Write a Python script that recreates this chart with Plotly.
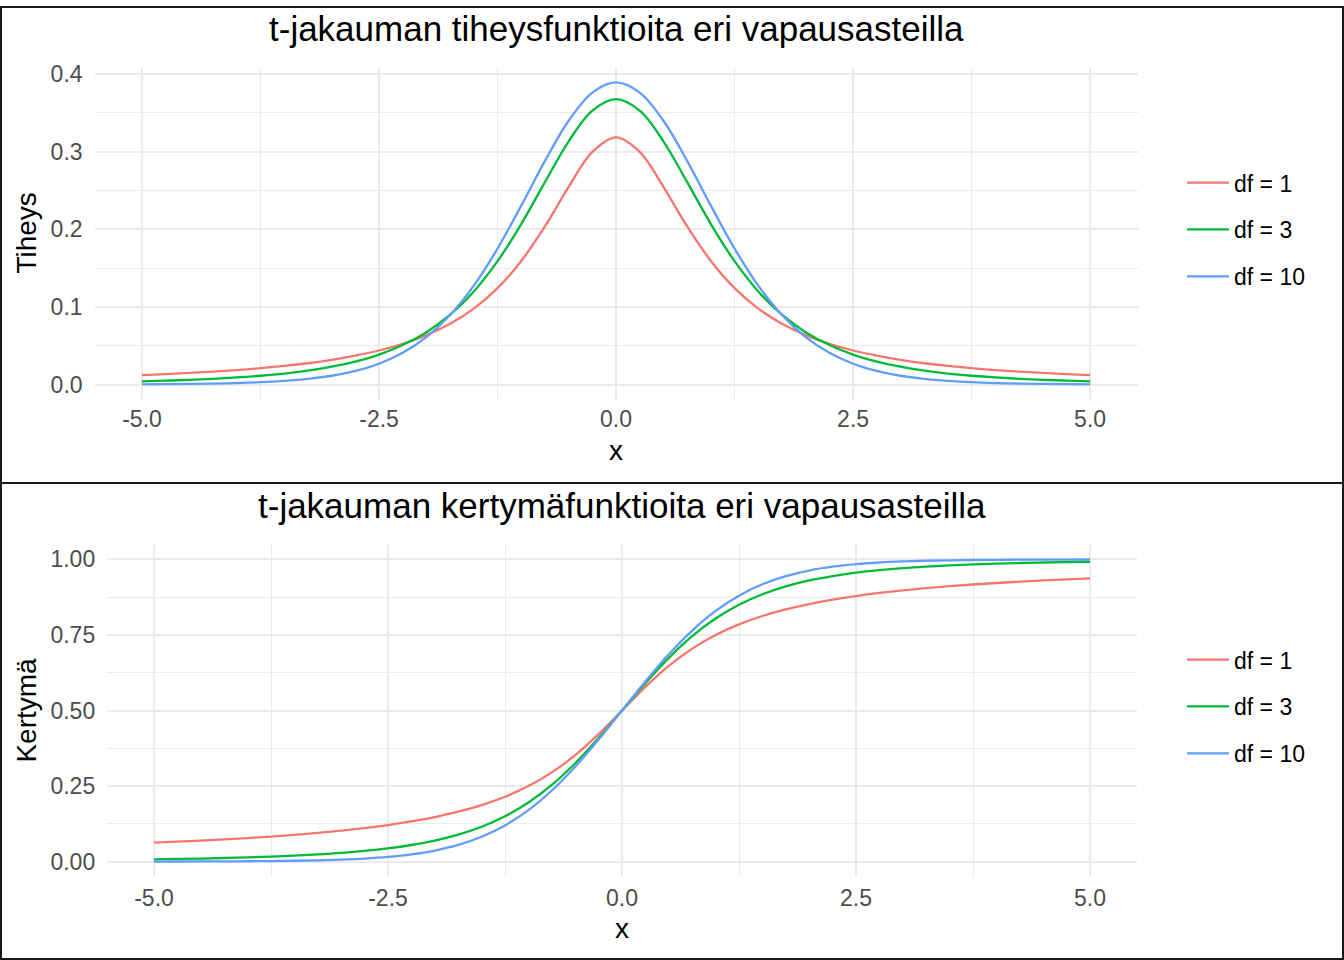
import plotly.graph_objects as go

W, H = 1344, 960

x_vals = [-5.0, -4.75, -4.5, -4.25, -4.0, -3.75, -3.5, -3.25, -3.0, -2.75, -2.5,
          -2.25, -2.0, -1.75, -1.5, -1.25, -1.0, -0.75, -0.5, -0.25, 0.0,
          0.25, 0.5, 0.75, 1.0, 1.25, 1.5, 1.75, 2.0, 2.25, 2.5,
          2.75, 3.0, 3.25, 3.5, 3.75, 4.0, 4.25, 4.5, 4.75, 5.0]

dens_df1 = [0.0122, 0.0135, 0.0150, 0.0167, 0.0187, 0.0211, 0.0240, 0.0275, 0.0318, 0.0372, 0.0439,
            0.0525, 0.0637, 0.0784, 0.0979, 0.1242, 0.1592, 0.2037, 0.2546, 0.2996, 0.3183,
            0.2996, 0.2546, 0.2037, 0.1592, 0.1242, 0.0979, 0.0784, 0.0637, 0.0525, 0.0439,
            0.0372, 0.0318, 0.0275, 0.0240, 0.0211, 0.0187, 0.0167, 0.0150, 0.0135, 0.0122]
dens_df3 = [0.0042, 0.0051, 0.0061, 0.0075, 0.0092, 0.0114, 0.0142, 0.0180, 0.0230, 0.0297, 0.0387,
            0.0509, 0.0675, 0.0900, 0.1200, 0.1589, 0.2067, 0.2606, 0.3132, 0.3527, 0.3676,
            0.3527, 0.3132, 0.2606, 0.2067, 0.1589, 0.1200, 0.0900, 0.0675, 0.0509, 0.0387,
            0.0297, 0.0230, 0.0180, 0.0142, 0.0114, 0.0092, 0.0075, 0.0061, 0.0051, 0.0042]
dens_df10 = [0.0004, 0.0006, 0.0009, 0.0013, 0.0020, 0.0031, 0.0048, 0.0074, 0.0114, 0.0176, 0.0269,
             0.0409, 0.0611, 0.0895, 0.1274, 0.1751, 0.2304, 0.2880, 0.3397, 0.3760, 0.3891,
             0.3760, 0.3397, 0.2880, 0.2304, 0.1751, 0.1274, 0.0895, 0.0611, 0.0409, 0.0269,
             0.0176, 0.0114, 0.0074, 0.0048, 0.0031, 0.0020, 0.0013, 0.0009, 0.0006, 0.0004]

cdf_df1 = [0.0628, 0.0660, 0.0696, 0.0736, 0.0780, 0.0830, 0.0886, 0.0950, 0.1024, 0.1110, 0.1211,
           0.1331, 0.1476, 0.1652, 0.1872, 0.2148, 0.2500, 0.2952, 0.3524, 0.4220, 0.5000,
           0.5780, 0.6476, 0.7048, 0.7500, 0.7852, 0.8128, 0.8348, 0.8524, 0.8669, 0.8789,
           0.8890, 0.8976, 0.9050, 0.9114, 0.9170, 0.9220, 0.9264, 0.9304, 0.9340, 0.9372]
cdf_df3 = [0.0077, 0.0088, 0.0102, 0.0119, 0.0141, 0.0166, 0.0197, 0.0237, 0.0288, 0.0354, 0.0438,
           0.0550, 0.0697, 0.0892, 0.1153, 0.1500, 0.1955, 0.2538, 0.3257, 0.4094, 0.5000,
           0.5906, 0.6743, 0.7462, 0.8045, 0.8500, 0.8847, 0.9108, 0.9303, 0.9450, 0.9562,
           0.9646, 0.9712, 0.9763, 0.9803, 0.9834, 0.9859, 0.9881, 0.9898, 0.9912, 0.9923]
cdf_df10 = [0.0003, 0.0004, 0.0006, 0.0008, 0.0013, 0.0019, 0.0029, 0.0044, 0.0067, 0.0102, 0.0157,
            0.0241, 0.0367, 0.0553, 0.0823, 0.1199, 0.1704, 0.2353, 0.3140, 0.4038, 0.5000,
            0.5962, 0.6860, 0.7647, 0.8296, 0.8801, 0.9177, 0.9447, 0.9633, 0.9759, 0.9843,
            0.9898, 0.9933, 0.9956, 0.9971, 0.9981, 0.9987, 0.9992, 0.9994, 0.9996, 0.9997]

series_names = ["df = 1", "df = 3", "df = 10"]
colors = ["#F8766D", "#00BA38", "#619CFF"]

x_tickvals = [-5.0, -2.5, 0.0, 2.5, 5.0]
x_ticktext = ["-5.0", "-2.5", "0.0", "2.5", "5.0"]
y1_tickvals = [0.0, 0.1, 0.2, 0.3, 0.4]
y1_ticktext = ["0.0", "0.1", "0.2", "0.3", "0.4"]
y2_tickvals = [0.0, 0.25, 0.5, 0.75, 1.0]
y2_ticktext = ["0.00", "0.25", "0.50", "0.75", "1.00"]

title_top = "t-jakauman tiheysfunktioita eri vapausasteilla"
title_bot = "t-jakauman kertymäfunktioita eri vapausasteilla"

FONT = "Liberation Sans, Arial, sans-serif"
GRID = "#EBEBEB"
TICKC = "#4D4D4D"


def px_x(p):
    return p / W


def px_y(p):
    return 1 - p / H


fig = go.Figure()

for name, col, ys in zip(series_names, colors, [dens_df1, dens_df3, dens_df10]):
    fig.add_trace(go.Scatter(x=x_vals, y=ys, mode="lines", name=name,
                             line=dict(color=col, width=2.3, shape="spline"),
                             xaxis="x", yaxis="y", legend="legend",
                             legendgroup="top" + name))
for name, col, ys in zip(series_names, colors, [cdf_df1, cdf_df3, cdf_df10]):
    fig.add_trace(go.Scatter(x=x_vals, y=ys, mode="lines", name=name,
                             line=dict(color=col, width=2.3, shape="spline"),
                             xaxis="x2", yaxis="y2", legend="legend2",
                             legendgroup="bot" + name))

axis_common = dict(showline=False, zeroline=False, ticks="", showgrid=True,
                   gridcolor=GRID, gridwidth=2.2,
                   tickfont=dict(family=FONT, size=23, color=TICKC))

minor_x = dict(tickvals=[-3.75, -1.25, 1.25, 3.75], showgrid=True, gridcolor=GRID, gridwidth=1.1)

fig.update_layout(
    width=W, height=H,
    margin=dict(l=0, r=0, t=0, b=0),
    paper_bgcolor="white", plot_bgcolor="white",
    font=dict(family=FONT, color="black"),
    xaxis=dict(domain=[px_x(94.6), px_x(1137.5)], range=[-5.5, 5.5], anchor="y",
               tickvals=x_tickvals, ticktext=x_ticktext, minor=minor_x,
               ticklabelstandoff=3, **axis_common),
    yaxis=dict(domain=[px_y(396.2), px_y(61.6)], range=[-0.01946, 0.40862], anchor="x",
               tickvals=y1_tickvals, ticktext=y1_ticktext,
               minor=dict(tickvals=[0.05, 0.15, 0.25, 0.35], showgrid=True,
                          gridcolor=GRID, gridwidth=1.1),
               ticklabelstandoff=11, **axis_common),
    xaxis2=dict(domain=[px_x(107.2), px_x(1136.8)], range=[-5.5, 5.5], anchor="y2",
                tickvals=x_tickvals, ticktext=x_ticktext, minor=minor_x,
                ticklabelstandoff=5, **axis_common),
    yaxis2=dict(domain=[px_y(876.2), px_y(541.8)], range=[-0.04997, 1.0497], anchor="x2",
                tickvals=y2_tickvals, ticktext=y2_ticktext,
                minor=dict(tickvals=[0.125, 0.375, 0.625, 0.875], showgrid=True,
                           gridcolor=GRID, gridwidth=1.1),
                ticklabelstandoff=11, **axis_common),
    legend=dict(x=px_x(1182), y=px_y(225), xanchor="left", yanchor="middle",
                font=dict(family=FONT, size=23, color="black"),
                bgcolor="rgba(0,0,0,0)", tracegroupgap=14, itemwidth=42),
    legend2=dict(x=px_x(1182), y=px_y(705), xanchor="left", yanchor="middle",
                 font=dict(family=FONT, size=23, color="black"),
                 bgcolor="rgba(0,0,0,0)", tracegroupgap=14, itemwidth=42),
    showlegend=True,
)

annotations = [
    dict(text=title_top, x=px_x(616), y=px_y(22.5), xanchor="center", yanchor="middle",
         font=dict(family=FONT, size=35, color="black")),
    dict(text=title_bot, x=px_x(622), y=px_y(502.5), xanchor="center", yanchor="middle",
         font=dict(family=FONT, size=35, color="black")),
    dict(text="x", x=px_x(616), y=px_y(447), xanchor="center", yanchor="middle",
         font=dict(family=FONT, size=28, color="black")),
    dict(text="x", x=px_x(622), y=px_y(928), xanchor="center", yanchor="middle",
         font=dict(family=FONT, size=28, color="black")),
    dict(text="Tiheys", x=px_x(27), y=px_y(229), xanchor="center", yanchor="middle",
         textangle=-90, font=dict(family=FONT, size=28, color="black")),
    dict(text="Kertymä", x=px_x(27), y=px_y(709), xanchor="center", yanchor="middle",
         textangle=-90, font=dict(family=FONT, size=28, color="black")),
]
for a in annotations:
    a.update(xref="paper", yref="paper", showarrow=False)
fig.update_layout(annotations=annotations)

shapes = [
    dict(type="rect", x0=px_x(1), x1=px_x(1343), y0=px_y(1), y1=px_y(480),
         line=dict(color="#1a1a1a", width=2)),
    dict(type="rect", x0=px_x(1), x1=px_x(1343), y0=px_y(480), y1=px_y(959),
         line=dict(color="#1a1a1a", width=2)),
]
for s in shapes:
    s.update(xref="paper", yref="paper", layer="above")
fig.update_layout(shapes=shapes)

fig.write_html("out.html")
